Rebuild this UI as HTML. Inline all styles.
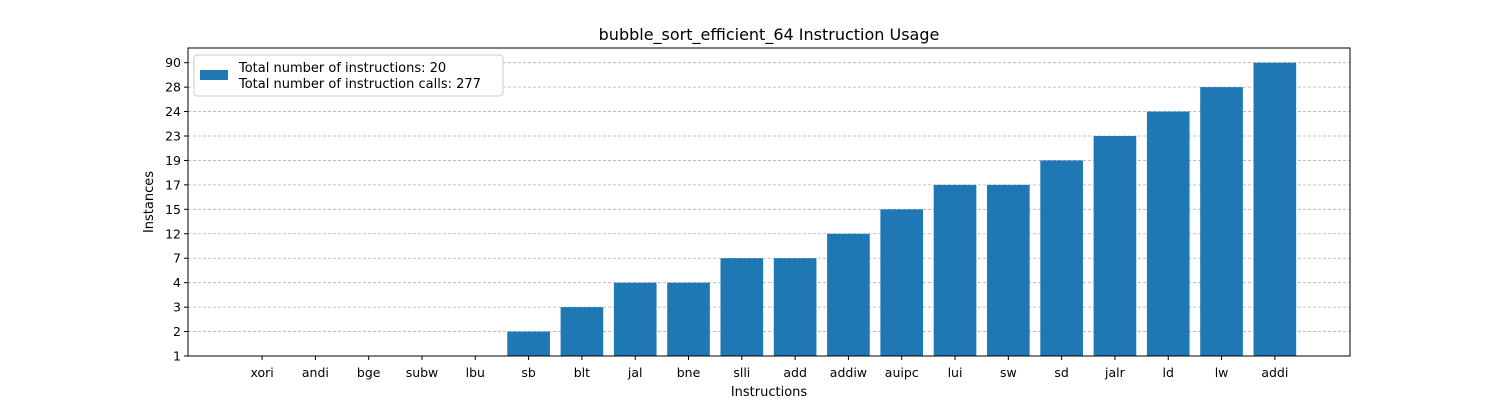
<!DOCTYPE html>
<html><head><meta charset="utf-8"><style>
body{margin:0;background:#fff;font-family:"Liberation Sans","DejaVu Sans",sans-serif}
svg text{font-family:"DejaVu Sans","Liberation Sans",sans-serif}
</style></head><body>
<svg id="chart" width="1500" height="400" xmlns="http://www.w3.org/2000/svg">
<text x="769" y="40" font-size="16" text-anchor="middle">bubble_sort_efficient_64 Instruction Usage</text>
<g id="grid"></g><g id="bars"></g><g id="axes"></g>
<text x="769" y="396" font-size="13" text-anchor="middle">Instructions</text>
<text x="153" y="202" font-size="13" text-anchor="middle" transform="rotate(-90 153 202)">Instances</text>
<g>
<rect x="194" y="55" width="309" height="41" fill="#fff" stroke="#ccc" rx="3"/>
<rect x="200" y="70" width="28" height="10" fill="#1f77b4"/>
<text x="239" y="72" font-size="13">Total number of instructions: 20</text>
<text x="239" y="88" font-size="13">Total number of instruction calls: 277</text>
</g>
</svg>
<script>
const categories=["xori","andi","bge","subw","lbu","sb","blt","jal","bne","slli","add","addiw","auipc","lui","sw","sd","jalr","ld","lw","addi"];
const values=[1,1,1,1,1,2,3,4,4,7,7,12,15,17,17,19,23,24,28,90];
const yTickLabels=[1,2,3,4,7,12,15,17,19,23,24,28,90];
const NS="http://www.w3.org/2000/svg";
const L=188,R=1350,T=48,B=356;
const xMin=-1.39,xMax=20.41,yMin=0,yMax=12.6;
const xs=i=>L+(i-xMin)/(xMax-xMin)*(R-L);
const ys=v=>B-(v-yMin)/(yMax-yMin)*(B-T);
const yIdx=v=>yTickLabels.indexOf(v);
function mk(t,a,p){const e=document.createElementNS(NS,t);for(const k in a)e.setAttribute(k,a[k]);p.appendChild(e);return e;}
const grid=document.getElementById('grid'),bars=document.getElementById('bars'),axes=document.getElementById('axes');
yTickLabels.forEach((lab,i)=>{const y=ys(i);
 const g=mk('line',{x1:L,x2:R,y1:y,y2:y,stroke:'#b0b0b0','stroke-dasharray':'3,2','stroke-width':0.8},grid);
 
 
 mk('line',{x1:L-4,x2:L,y1:y,y2:y,stroke:'#000'},axes);
 const t=mk('text',{x:L-7,y:y+4.5,'font-size':12.5,'text-anchor':'end'},axes);t.textContent=lab;
 
 
});
categories.forEach((c,i)=>{const h=yIdx(values[i]);const x=xs(i);
 const r=mk('rect',{x:xs(i-0.4),y:ys(h),width:xs(i+0.4)-xs(i-0.4),height:ys(0)-ys(h),fill:'#1f77b4'},bars);
 
 
 mk('line',{x1:x,x2:x,y1:B,y2:B+4,stroke:'#000'},axes);
 const t=mk('text',{x:x,y:B+21,'font-size':12.5,'text-anchor':'middle'},axes);t.textContent=c;
 
 
});
const f=mk('rect',{x:L,y:T,width:R-L,height:B-T,fill:'none',stroke:'#000','stroke-width':1},axes);


</script>
</body></html>
